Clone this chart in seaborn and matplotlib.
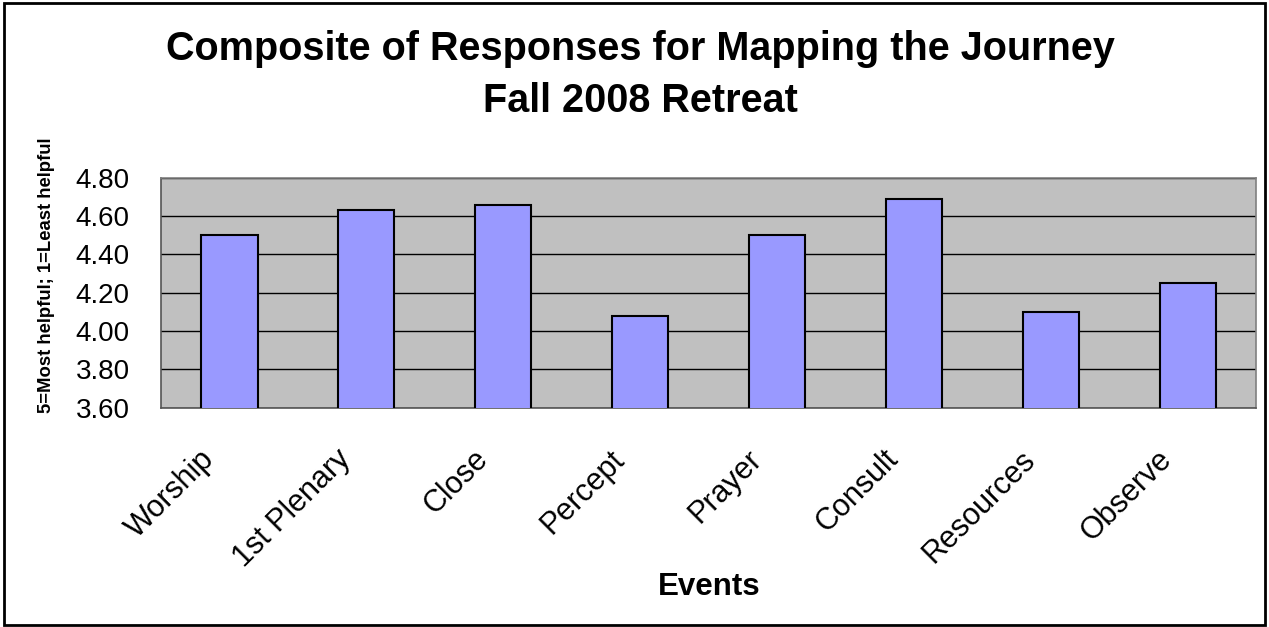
#!/usr/bin/env python3
"""Composite of responses for Mapping the Journey, Fall 2008 retreat."""

import matplotlib
matplotlib.use('Agg')
import matplotlib.pyplot as plt
import matplotlib.ticker as mticker
import matplotlib.transforms as mtransforms
from matplotlib.patches import Rectangle
import pandas as pd
import seaborn as sns

# Chart data
events = ['Worship', '1st Plenary', 'Close', 'Percept', 'Prayer',
          'Consult', 'Resources', 'Observe']
scores = [4.50, 4.63, 4.66, 4.08, 4.50, 4.69, 4.10, 4.25]
y_ticks = [3.60, 3.80, 4.00, 4.20, 4.40, 4.60, 4.80]

title_text = 'Composite of Responses for Mapping the Journey\nFall 2008 Retreat'
x_label = 'Events'
y_label = '5=Most helpful; 1=Least helpful'

sns.set_style('white')
plt.rcParams['font.family'] = ['Liberation Sans', 'DejaVu Sans']
plt.rcParams['text.color'] = 'black'
plt.rcParams['xtick.color'] = 'black'
plt.rcParams['ytick.color'] = 'black'

df = pd.DataFrame({'event': events, 'score': scores})

fig = plt.figure(figsize=(12.69, 6.27), dpi=100)
ax = fig.add_axes([0.1269, 0.3498, 0.8629, 0.3668])

sns.barplot(data=df, x='event', y='score', ax=ax, color='#9999FF',
            saturation=1, width=0.41, edgecolor='black', linewidth=1.5,
            zorder=3)

ax.set_facecolor('#C0C0C0')
ax.set_ylim(y_ticks[0], y_ticks[-1])
ax.set_xlim(-0.5, len(events) - 0.5)
ax.set_yticks(y_ticks)
ax.yaxis.set_major_formatter(mticker.FormatStrFormatter('%.2f'))
ax.yaxis.grid(True, color='black', linewidth=1, zorder=1)
ax.set_axisbelow(True)

# Excel-style: tick marks on category boundaries, labels at centres
ax.set_xticks(range(len(events)))
ax.set_xticks([i - 0.5 for i in range(len(events) + 1)], minor=True)
ax.tick_params(axis='x', which='major', length=0, pad=34)
ax.tick_params(axis='x', which='minor', length=6, width=1, color='black',
               direction='out')
ax.tick_params(axis='y', length=6.5, width=1, color='black', direction='out',
               labelsize=20, pad=16)
ax.set_xticklabels(events, rotation=45, ha='right', va='center',
                   rotation_mode='anchor', fontsize=22)
shift = mtransforms.ScaledTranslation(-0.20, 0, fig.dpi_scale_trans)
for lbl in ax.get_xticklabels():
    lbl.set_transform(lbl.get_transform() + shift)

for side in ['left', 'bottom']:
    ax.spines[side].set_color('#555555')
    ax.spines[side].set_linewidth(1.2)
for side in ['right', 'top']:
    ax.spines[side].set_color('#808080')
    ax.spines[side].set_linewidth(1.2)

ax.set_xlabel('')
ax.set_ylabel('')
fig.text(0.5587, 0.0632, x_label, ha='center', va='center',
         fontsize=22.5, fontweight='bold')
fig.text(0.0366, 0.5614, y_label, ha='center', va='center', rotation=90,
         fontsize=13.3, fontweight='bold')
fig.text(0.5043, 0.880, title_text, ha='center', va='center',
         fontsize=28.5, fontweight='bold', linespacing=1.48)

# outer chart frame
fig.patches.append(Rectangle((0.003, 0.003), 0.994, 0.993,
                             transform=fig.transFigure, fill=False,
                             edgecolor='black', linewidth=2))

fig.savefig('out.png', dpi=100)
